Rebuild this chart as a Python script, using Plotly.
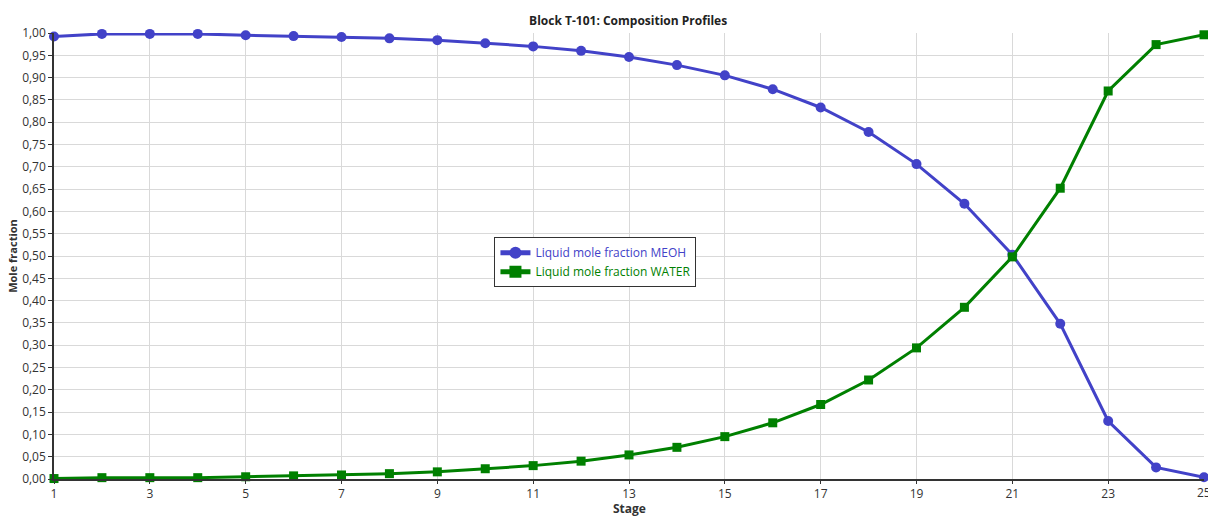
import plotly.graph_objects as go

stages = list(range(1, 26))
meoh = [0.992, 0.998, 0.998, 0.998, 0.995, 0.993, 0.991, 0.988, 0.984, 0.977,
        0.970, 0.960, 0.946, 0.928, 0.905, 0.874, 0.833, 0.778, 0.706, 0.617,
        0.503, 0.348, 0.130, 0.026, 0.004]
water = [0.001, 0.003, 0.003, 0.003, 0.005, 0.007, 0.009, 0.012, 0.016, 0.023,
         0.030, 0.040, 0.054, 0.071, 0.095, 0.126, 0.167, 0.222, 0.294, 0.385,
         0.498, 0.652, 0.870, 0.974, 0.996]
x_tick_vals = list(range(1, 26, 2))

blue = "#4242C8"
green = "#008000"
font = "Open Sans, DejaVu Sans, sans-serif"

fig = go.Figure()
fig.add_trace(go.Scatter(
    x=stages, y=meoh, mode="lines+markers",
    name=f"<span style='color:{blue}'>Liquid mole fraction MEOH</span>",
    line=dict(color=blue, width=3),
    marker=dict(symbol="circle", size=10, color=blue),
    cliponaxis=False))
fig.add_trace(go.Scatter(
    x=stages, y=water, mode="lines+markers",
    name=f"<span style='color:{green}'>Liquid mole fraction WATER</span>",
    line=dict(color=green, width=3),
    marker=dict(symbol="square", size=9, color=green),
    cliponaxis=False))

# last tick label (plotly hides labels overflowing the edge)
fig.add_annotation(x=x_tick_vals[-1], y=0, xref="x", yref="paper",
                   text=str(x_tick_vals[-1]), showarrow=False,
                   xanchor="center", yanchor="top", yshift=-3,
                   font=dict(family=font, size=12, color="#333333"))
# x axis title
fig.add_annotation(x=0.5, y=0, xref="paper", yref="paper",
                   text="<b>Stage</b>", showarrow=False, borderpad=0,
                   xanchor="center", yanchor="top", yshift=-20,
                   font=dict(family=font, size=12, color="#333333"))

fig.update_layout(
    width=1208, height=516,
    margin=dict(l=54, r=4, t=33, b=37, autoexpand=False),
    paper_bgcolor="white", plot_bgcolor="white",
    separators=", ",
    font=dict(family=font, size=12, color="#333333"),
    title=dict(text="<b>Block T-101: Composition Profiles</b>", x=0.52, xanchor="center",
               y=0.96, yanchor="middle", font=dict(size=12, color="#222222")),
    showlegend=True,
    legend=dict(x=0.383, y=0.542, xanchor="left", yanchor="top",
                bgcolor="white", bordercolor="#333333", borderwidth=1,
                font=dict(size=12), tracegroupgap=0, itemsizing="constant"),
    xaxis=dict(range=[1, 25], tickmode="array", tickvals=x_tick_vals[:-1],
               showgrid=True, gridcolor="#d9d9d9", gridwidth=1,
               showline=True, linecolor="#333333", linewidth=1.5,
               ticks="outside", ticklen=3, tickcolor="#333333",
               zeroline=False, automargin=False),
    yaxis=dict(range=[0, 1], tickmode="linear", tick0=0, dtick=0.05,
               tickformat=".2f",
               showgrid=True, gridcolor="#d9d9d9", gridwidth=1,
               showline=True, linecolor="#333333", linewidth=1.5,
               ticks="outside", ticklen=4, tickcolor="#333333",
               zeroline=False, automargin=False,
               title=dict(text="<b>Mole fraction</b>", standoff=2, font=dict(size=11))),
)

fig.write_html("out.html", config={"displayModeBar": False},
               post_script="document.body.style.margin='0';document.body.style.overflow='hidden';")
